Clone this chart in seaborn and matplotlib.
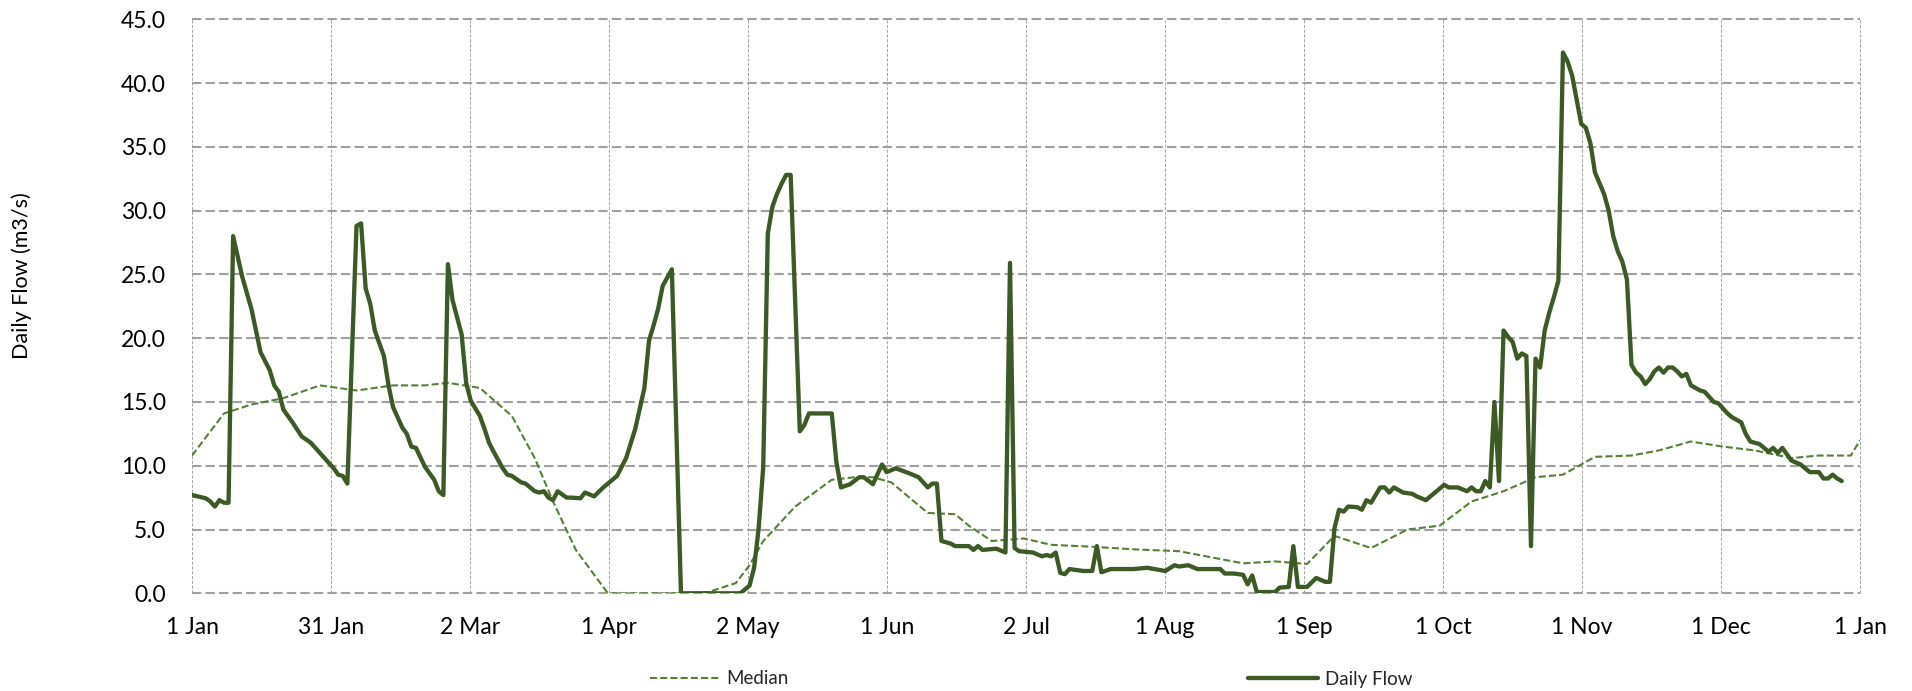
import pandas as pd
import matplotlib.pyplot as plt
import seaborn as sns

sns.set_theme(style="white")
plt.rcParams['font.family'] = ['Lato', 'DejaVu Sans']

# Daily flow (day of year, m3/s)
flow_days = [0, 3, 4, 5, 6, 7, 8, 9, 11, 13, 15, 17, 18, 19, 20, 22, 24, 26, 28, 31,
             32, 33, 34, 36, 37, 38, 39, 40, 42, 43, 44, 46, 47, 48, 49, 51, 53, 54, 55, 56,
             57, 59, 60, 61, 63, 64, 65, 66, 68, 69, 70, 72, 73, 75, 76, 77, 78, 79, 80, 82,
             83, 85, 86, 88, 90, 91, 93, 95, 97, 99, 100, 101, 102, 103, 105, 107, 120, 122, 123,
             124, 125, 126, 127, 128, 129, 130, 131, 133, 134, 135, 140, 141, 142, 144, 146, 147, 149, 151, 152,
             154, 157, 159, 161, 162, 163, 164, 166, 167, 170, 171, 172, 173, 176, 178, 179, 180, 181, 184, 186,
             187, 188, 189, 190, 191, 192, 195, 197, 198, 199, 201, 206, 209, 213, 215, 216, 218, 220, 225, 226,
             228, 230, 231, 232, 233, 237, 238, 240, 241, 242, 244, 246, 248, 249, 250, 251, 252, 253, 255, 256,
             257, 258, 259, 260, 261, 262, 263, 265, 267, 268, 270, 271, 273, 274, 275, 277, 279, 280, 281, 282,
             283, 284, 285, 286, 287, 288, 289, 290, 291, 292, 293, 294, 295, 296, 297, 298, 299, 300, 301, 302,
             303, 304, 305, 306, 307, 309, 310, 311, 312, 313, 314, 315, 316, 317, 318, 319, 320, 321, 322, 323,
             324, 325, 326, 327, 328, 330, 331, 332, 333, 334, 336, 337, 339, 340, 341, 343, 345, 346, 347, 348,
             350, 352, 354, 356, 357, 358, 359, 360, 361]
flow_values = [7.7, 7.45, 7.2, 6.8, 7.3, 7.1, 7.1, 28.0, 24.8, 22.3, 18.9, 17.5, 16.3, 15.8, 14.4, 13.4, 12.3, 11.8, 11.0, 9.8,
               9.3, 9.2, 8.6, 28.8, 29.0, 23.9, 22.7, 20.6, 18.6, 16.3, 14.6, 13.0, 12.5, 11.5, 11.4, 9.9, 8.9, 8.0, 7.7, 25.8,
               23.0, 20.3, 16.5, 15.1, 13.9, 12.9, 11.8, 11.1, 9.8, 9.3, 9.2, 8.7, 8.6, 8.0, 7.9, 8.0, 7.5, 7.3, 8.0, 7.5,
               7.5, 7.45, 7.9, 7.6, 8.3, 8.6, 9.2, 10.6, 12.9, 16.1, 19.8, 21.0, 22.3, 24.1, 25.4, 0.0, 0.0, 0.6, 2.0,
               5.1, 9.9, 28.2, 30.3, 31.3, 32.1, 32.8, 32.8, 12.7, 13.2, 14.1, 14.1, 10.3, 8.3, 8.55, 9.1, 9.1, 8.55, 10.1, 9.5,
               9.8, 9.4, 9.1, 8.3, 8.6, 8.6, 4.1, 3.9, 3.7, 3.7, 3.4, 3.7, 3.4, 3.5, 3.2, 25.9, 3.55, 3.3, 3.2, 2.9,
               3.0, 2.9, 3.2, 1.6, 1.5, 1.9, 1.75, 1.75, 3.7, 1.65, 1.9, 1.9, 2.0, 1.75, 2.2, 2.1, 2.2, 1.9, 1.9, 1.55,
               1.55, 1.45, 0.7, 1.4, 0.1, 0.1, 0.45, 0.5, 3.7, 0.5, 0.5, 1.2, 0.9, 0.9, 5.1, 6.55, 6.4, 6.8, 6.75, 6.55,
               7.3, 7.1, 7.7, 8.3, 8.3, 7.9, 8.3, 7.9, 7.8, 7.6, 7.3, 7.6, 8.2, 8.5, 8.3, 8.3, 8.0, 8.3, 8.0, 8.0,
               8.8, 8.3, 15.0, 8.8, 20.6, 20.1, 19.7, 18.4, 18.8, 18.6, 3.7, 18.4, 17.7, 20.6, 22.0, 23.2, 24.5, 42.4, 41.7, 40.6,
               38.7, 36.8, 36.5, 35.3, 33.0, 31.3, 30.0, 28.0, 26.8, 26.0, 24.6, 17.9, 17.3, 17.0, 16.4, 16.8, 17.4, 17.7, 17.3, 17.7,
               17.7, 17.4, 17.0, 17.2, 16.3, 15.9, 15.8, 15.4, 15.0, 14.9, 14.1, 13.8, 13.4, 12.5, 11.9, 11.7, 11.1, 11.4, 11.0, 11.4,
               10.4, 10.1, 9.5, 9.5, 9.0, 9.0, 9.3, 9.0, 8.8]

# Median flow
median_days = [0, 7, 13, 20, 28, 36, 44, 51, 56, 63, 70, 75, 79, 84, 91, 107, 113, 119, 122, 125,
               132, 140, 145, 149, 153, 157, 161, 167, 170, 175, 182, 188, 197, 206, 216, 230, 237, 244, 250, 258,
               266, 273, 280, 287, 294, 300, 307, 315, 321, 328, 335, 342, 350, 356, 363, 365]
median_values = [10.8, 14.1, 14.8, 15.3, 16.3, 15.9, 16.3, 16.3, 16.5, 16.1, 13.9, 10.6, 7.2, 3.4, 0.0, 0.0, 0.1, 0.8, 2.2, 4.1,
                 6.8, 8.9, 9.1, 9.1, 8.7, 7.5, 6.3, 6.2, 5.3, 4.1, 4.3, 3.8, 3.65, 3.45, 3.3, 2.35, 2.5, 2.3, 4.5, 3.55,
                 5.0, 5.3, 7.2, 8.0, 9.1, 9.3, 10.7, 10.8, 11.2, 11.9, 11.5, 11.2, 10.6, 10.8, 10.8, 12.0]

tick_labels = ['1 Jan', '31 Jan', '2 Mar', '1 Apr', '2 May', '1 Jun', '2 Jul',
               '1 Aug', '1 Sep', '1 Oct', '1 Nov', '1 Dec', '1 Jan']
tick_pos = [i * 365 / 12 for i in range(13)]

flow = pd.DataFrame({'day': flow_days, 'flow': flow_values})
median = pd.DataFrame({'day': median_days, 'flow': median_values})

fig = plt.figure(figsize=(19.12, 6.91), dpi=100)
ax = fig.add_axes([192 / 1912, 1 - 593.3 / 691, 1668 / 1912, 574 / 691])

sns.lineplot(data=median, x='day', y='flow', ax=ax, color='#548235', linewidth=1.5,
             linestyle=(0, (3.4, 1.5)), label='Median')
sns.lineplot(data=flow, x='day', y='flow', ax=ax, color='#3b5a24', linewidth=3.1,
             solid_capstyle='round', solid_joinstyle='round', label='Daily Flow')

ax.set_xlim(0, 365)
ax.set_ylim(0, 45)
ax.set_xticks(tick_pos)
ax.set_xticklabels(tick_labels)
ax.set_yticks(range(0, 46, 5))
ax.set_yticklabels([f'{v:.1f}' for v in range(0, 46, 5)])
ax.tick_params(axis='both', length=0, labelsize=16.5, colors='#000000')
ax.tick_params(axis='y', pad=19)
ax.tick_params(axis='x', pad=17)
ax.set_xlabel('')
ax.set_ylabel('Daily Flow (m3/s)', fontsize=15.5, color='#000000')
ax.yaxis.set_label_coords(-0.096, 0.553)

ax.set_axisbelow(True)
ax.grid(True, axis='y', color='#a0a0a0', linewidth=1.5, linestyle=(0, (4.5, 2)))
ax.grid(True, axis='x', color='#a6a6a6', linewidth=0.75, linestyle=(0, (3, 1.6)))
for line in ax.get_xgridlines() + ax.get_ygridlines():
    line.set_clip_on(False)
for s in ax.spines.values():
    s.set_visible(False)

handles, labels = ax.get_legend_handles_labels()
ax.get_legend().remove()
fig.legend(handles, labels, loc='center', bbox_to_anchor=(1031 / 1912, 1 - 679 / 691),
           ncol=2, frameon=False, fontsize=13.5, handlelength=3.73,
           handletextpad=0.37, columnspacing=24.5, borderpad=0.2)

fig.savefig('out.png', dpi=100)
